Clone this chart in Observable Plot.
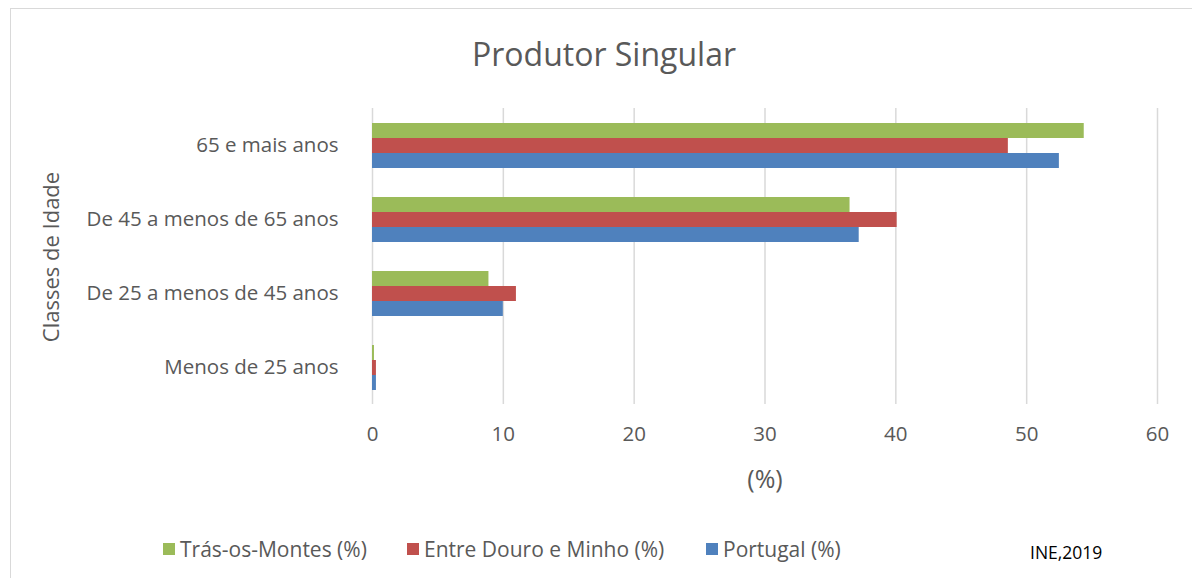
<!DOCTYPE html>
<html>
<head>
<meta charset="utf-8">
<script src="https://cdn.jsdelivr.net/npm/d3@7"></script>
<script src="https://cdn.jsdelivr.net/npm/@observablehq/plot@0.6"></script>
<style>
  html, body { margin: 0; padding: 0; background: #fff; }
  #wrap { position: relative; width: 1192px; height: 578px; overflow: hidden; font-family: "Open Sans", sans-serif; color: #595959; }
  #frame { position: absolute; left: 10px; top: 8px; width: 1200px; height: 600px; border: 1px solid #d9d9d9; box-sizing: border-box; }
  #chart { position: absolute; left: 0; top: 0; }
  #title { position: absolute; left: 0; width: 1208px; top: 33px; text-align: center; font-size: 32px; line-height: 42px; color: #595959; }
  #ylabel { position: absolute; left: 50px; top: 257px; transform: translate(-50%, -50%) rotate(-90deg); font-size: 22px; white-space: nowrap; color: #595959; }
  #xlabel { position: absolute; left: 665px; width: 200px; top: 461px; text-align: center; font-size: 25px; line-height: 34px; color: #595959; }
  .item { position: absolute; top: 535px; display: flex; align-items: center; font-size: 21px; line-height: 28px; color: #595959; white-space: nowrap; }
  .sw { width: 12px; height: 12px; margin-right: 5px; }
  #source { position: absolute; left: 1030px; top: 540px; font-size: 17.5px; color: #000; }
</style>
</head>
<body>
<div id="wrap">
  <div id="frame"></div>
  <div id="chart"></div>
  <div id="title">Produtor Singular</div>
  <div id="ylabel">Classes de Idade</div>
  <div id="xlabel">(%)</div>
  <div id="legend"></div>
  <div id="source">INE,2019</div>
</div>
<script>
const categories = ["65 e mais anos", "De 45 a menos de 65 anos", "De 25 a menos de 45 anos", "Menos de 25 anos"];
const series = ["Trás-os-Montes (%)", "Entre Douro e Minho (%)", "Portugal (%)"];
const colors = ["#9BBB59", "#C0504D", "#4F81BD"];
const trasOsMontes = [54.4, 36.5, 8.9, 0.15];
const entreDouroMinho = [48.6, 40.1, 11.0, 0.3];
const portugal = [52.5, 37.2, 10.0, 0.3];
const xTicks = [0, 10, 20, 30, 40, 50, 60];

const seriesValues = [trasOsMontes, entreDouroMinho, portugal];
const data = [];
categories.forEach((c, i) => {
  series.forEach((s, j) => data.push({category: c, series: s, value: seriesValues[j][i]}));
});

const chart = Plot.plot({
  width: 1192,
  height: 500,
  marginLeft: 372,
  marginRight: 35,
  marginTop: 106,
  marginBottom: 95,
  style: {fontFamily: "'Open Sans', sans-serif", color: "#595959", background: "transparent"},
  x: {domain: [0, 60]},
  y: {domain: series, paddingInner: 0, paddingOuter: 0.94, axis: null},
  fy: {domain: categories, padding: 0},
  color: {domain: series, range: colors},
  marks: [
    Plot.gridX(xTicks, {stroke: "#d9d9d9", strokeOpacity: 1, strokeWidth: 1.5}),
    Plot.barX(data, {x: "value", y: "series", fy: "category", fill: "series"}),
    Plot.axisX({ticks: xTicks, tickSize: 0, tickPadding: 22, fontSize: 20.5, label: null}),
    Plot.axisFy({anchor: "left", tickSize: 0, tickPadding: 34, fontSize: 20.5, label: null})
  ]
});
document.getElementById("chart").appendChild(chart);

const legend = document.getElementById("legend");
const legendLeft = [163, 407, 706];
series.forEach((s, i) => {
  const it = document.createElement("div");
  it.className = "item";
  it.style.left = legendLeft[i] + "px";
  const sw = document.createElement("div");
  sw.className = "sw";
  sw.style.background = colors[i];
  it.appendChild(sw);
  it.appendChild(document.createTextNode(s));
  legend.appendChild(it);
});
</script>
</body>
</html>
